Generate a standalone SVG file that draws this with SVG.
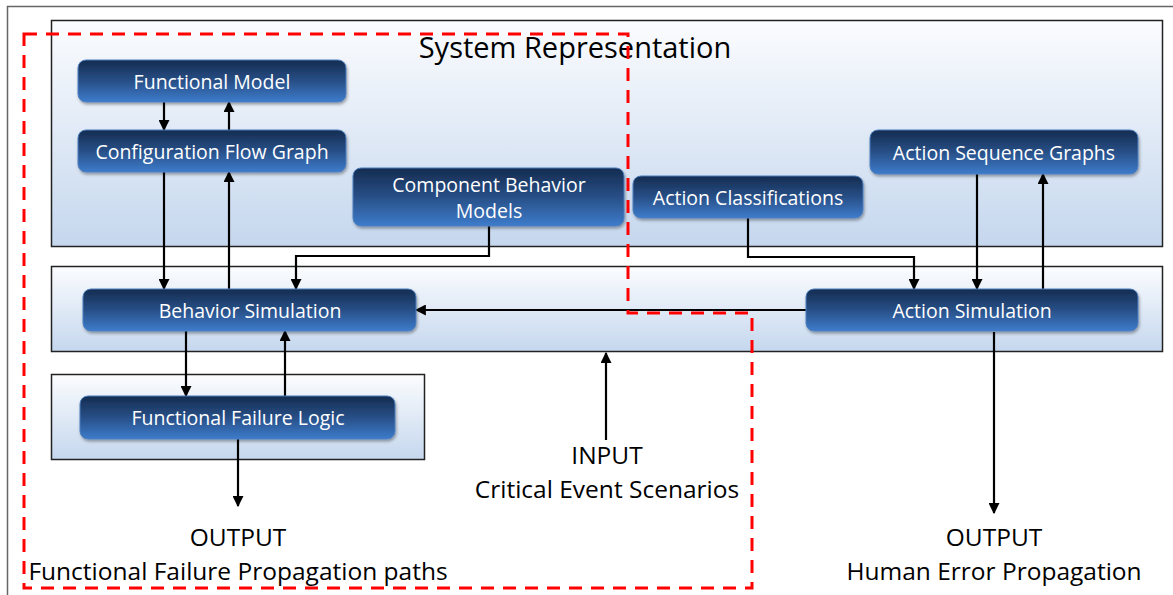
<svg xmlns="http://www.w3.org/2000/svg" width="1173" height="595" viewBox="0 0 1173 595">
  <defs>
    <linearGradient id="panelFill" x1="0" y1="0" x2="0" y2="1">
      <stop offset="0" stop-color="#fbfcfe"/>
      <stop offset="1" stop-color="#c5d7ee"/>
    </linearGradient>
    <linearGradient id="nodeFill" x1="0" y1="0" x2="0" y2="1">
      <stop offset="0" stop-color="#142c50"/>
      <stop offset="0.5" stop-color="#284f87"/>
      <stop offset="1" stop-color="#3d7ccb"/>
    </linearGradient>
    <filter id="drop" x="-10%" y="-20%" width="120%" height="150%">
      <feDropShadow dx="1" dy="2" stdDeviation="1.5" flood-color="#000" flood-opacity="0.35"/>
    </filter>
    <marker id="arrow" viewBox="0 0 10 10" refX="9" refY="5" markerWidth="5" markerHeight="5" orient="auto">
      <path d="M0,0 L10,5 L0,10 z" fill="#000"/>
    </marker>
  </defs>
  <style>
    .panel { fill: url(#panelFill); stroke: #222; stroke-width: 1.5; }
    .node rect { fill: url(#nodeFill); stroke: #4d7fbf; stroke-width: 1; filter: url(#drop); }
    .node text { fill: #fff; font-family: "Open Sans", "Liberation Sans", sans-serif; font-size: 19.5px; text-anchor: middle; dominant-baseline: central; }
    .label { fill: #000; font-family: "Open Sans", "Liberation Sans", sans-serif; font-size: 24.5px; text-anchor: middle; }
    .title { font-size: 29px; }
    .conn path { fill: none; stroke: #000; stroke-width: 2.2; }
    .conn .arr { marker-end: url(#arrow); }
    .boundary { fill: none; stroke: #ff0000; stroke-width: 3; stroke-dasharray: 13 9; }
  </style>

  <rect width="1173" height="595" fill="#fff"/>
  <!-- outer frame -->
  <path d="M7.5,600 L7.5,6.5 L1180,6.5" fill="none" stroke="#666" stroke-width="1.5"/>

  <!-- panels -->
  <rect class="panel" x="51.5" y="20.5" width="1111" height="226"/>
  <text class="label title" x="575" y="58">System Representation</text>
  <rect class="panel" x="51.5" y="266.5" width="1111" height="85"/>
  <rect class="panel" x="51.5" y="374.5" width="373" height="85"/>

  <!-- connectors -->
  <g class="conn">
    <path class="arr" d="M164,102 V130"/>
    <path class="arr" d="M229,130 V102"/>
    <path class="arr" d="M164,172 V289"/>
    <path class="arr" d="M229,289 V172"/>
    <path class="arr" d="M489,226 V256 H296 V289"/>
    <path class="arr" d="M748,218 V257 H914 V289"/>
    <path class="arr" d="M977,174 V289"/>
    <path class="arr" d="M1043,289 V174"/>
    <path class="arr" d="M806,310 H416"/>
    <path class="arr" d="M186,331 V396"/>
    <path class="arr" d="M285,396 V331"/>
    <path class="arr" d="M238,439 V506"/>
    <path class="arr" d="M606,440 V353"/>
    <path class="arr" d="M994,332 V513"/>
  </g>

  <!-- nodes -->
  <g id="functional-model" class="node">
    <rect x="78" y="60" width="268" height="42" rx="8"/>
    <text x="212" y="81">Functional Model</text>
  </g>
  <g id="configuration-flow-graph" class="node">
    <rect x="78" y="130" width="268" height="42" rx="8"/>
    <text x="212" y="151">Configuration Flow Graph</text>
  </g>
  <g id="component-behavior-models" class="node">
    <rect x="353" y="168" width="271" height="58" rx="8"/>
    <text x="489" y="184">Component Behavior</text>
    <text x="489" y="210">Models</text>
  </g>
  <g id="action-classifications" class="node">
    <rect x="633" y="176" width="230" height="42" rx="8"/>
    <text x="748" y="197">Action Classifications</text>
  </g>
  <g id="action-sequence-graphs" class="node">
    <rect x="870" y="130" width="268" height="44" rx="8"/>
    <text x="1004" y="152">Action Sequence Graphs</text>
  </g>
  <g id="behavior-simulation" class="node">
    <rect x="83" y="289" width="333" height="42" rx="8"/>
    <text x="250" y="310">Behavior Simulation</text>
  </g>
  <g id="action-simulation" class="node">
    <rect x="806" y="289" width="332" height="42" rx="8"/>
    <text x="972" y="310">Action Simulation</text>
  </g>
  <g id="functional-failure-logic" class="node">
    <rect x="80" y="396" width="315" height="43" rx="8"/>
    <text x="238" y="417">Functional Failure Logic</text>
  </g>

  <!-- inputs and outputs -->
  <g id="input-scenarios">
    <text class="label" x="607" y="464">INPUT</text>
    <text class="label" x="607" y="498">Critical Event Scenarios</text>
  </g>
  <g id="output-failure-paths">
    <text class="label" x="238" y="546">OUTPUT</text>
    <text class="label" x="238" y="580">Functional Failure Propagation paths</text>
  </g>
  <g id="output-human-error">
    <text class="label" x="994" y="546">OUTPUT</text>
    <text class="label" x="994" y="580">Human Error Propagation</text>
  </g>

  <!-- analysis scope boundary -->
  <path class="boundary" d="M24,34 H628 V313 H752 V588 H24 Z"/>
</svg>
